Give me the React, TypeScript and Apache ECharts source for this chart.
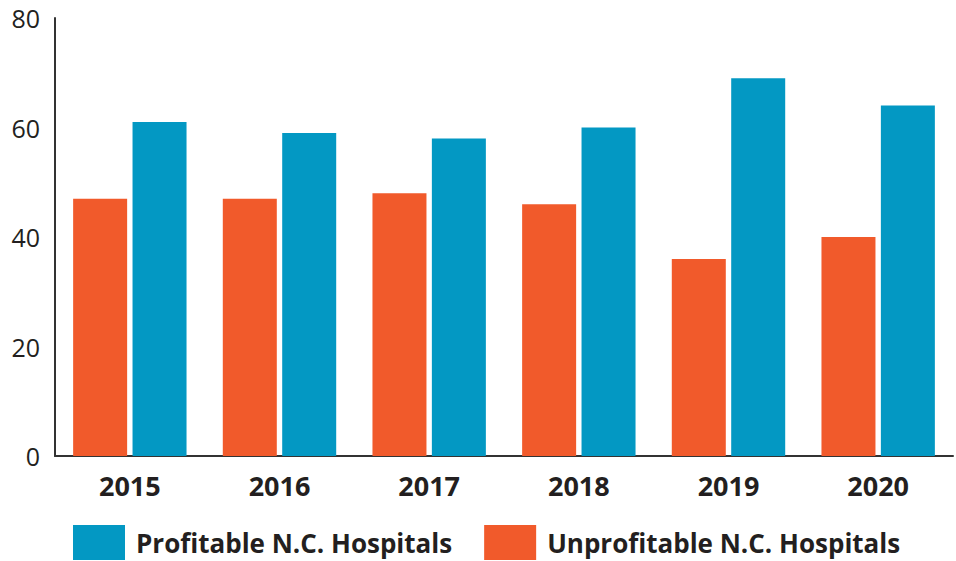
import React, { useEffect, useRef } from "react";
import * as echarts from "echarts";

const years = ["2015", "2016", "2017", "2018", "2019", "2020"];
const profitable = [61, 59, 58, 60, 69, 64];
const unprofitable = [47, 47, 48, 46, 36, 40];
const yTicks = { min: 0, max: 80, interval: 20 };

export default function App() {
  const ref = useRef<HTMLDivElement>(null);
  useEffect(() => {
    if (!ref.current) return;
    const chart = echarts.init(ref.current, null, { renderer: "svg" });
    const font = "'Open Sans', 'Noto Sans', sans-serif";
    chart.setOption({
      animation: false,
      textStyle: { fontFamily: font },
      grid: { left: 55, right: 3, top: 18, bottom: 105, containLabel: false },
      legend: {
        left: 73,
        top: 525,
        padding: 0,
        itemWidth: 52,
        itemHeight: 35,
        itemGap: 32,
        icon: "rect",
        data: ["Profitable N.C. Hospitals", "Unprofitable N.C. Hospitals"],
        textStyle: {
          fontFamily: font,
          fontWeight: "bold",
          fontSize: 26,
          color: "#231f20",
          padding: [0, 0, 0, 6],
        },
        selectedMode: false,
      },
      xAxis: {
        type: "category",
        data: years,
        axisLine: { show: true, lineStyle: { color: "#333", width: 2 } },
        axisTick: { show: false },
        axisLabel: {
          fontFamily: font,
          fontWeight: "bold",
          fontSize: 27,
          color: "#231f20",
          margin: 16,
        },
      },
      yAxis: {
        type: "value",
        min: yTicks.min,
        max: yTicks.max,
        interval: yTicks.interval,
        axisLine: { show: true, lineStyle: { color: "#333", width: 2 } },
        axisTick: { show: false },
        splitLine: { show: false },
        axisLabel: {
          fontFamily: font,
          fontSize: 25,
          color: "#231f20",
          margin: 15,
        },
      },
      series: [
        {
          name: "Unprofitable N.C. Hospitals",
          type: "bar",
          data: unprofitable,
          barWidth: 54,
          barGap: "10%",
          itemStyle: { color: "#F15A2B" },
        },
        {
          name: "Profitable N.C. Hospitals",
          type: "bar",
          data: profitable,
          barWidth: 54,
          barGap: "10%",
          itemStyle: { color: "#0398C3" },
        },
      ],
    });
    return () => chart.dispose();
  }, []);
  return <div ref={ref} style={{ width: 956, height: 561, position: "absolute", left: 0, top: 0 }} />;
}
